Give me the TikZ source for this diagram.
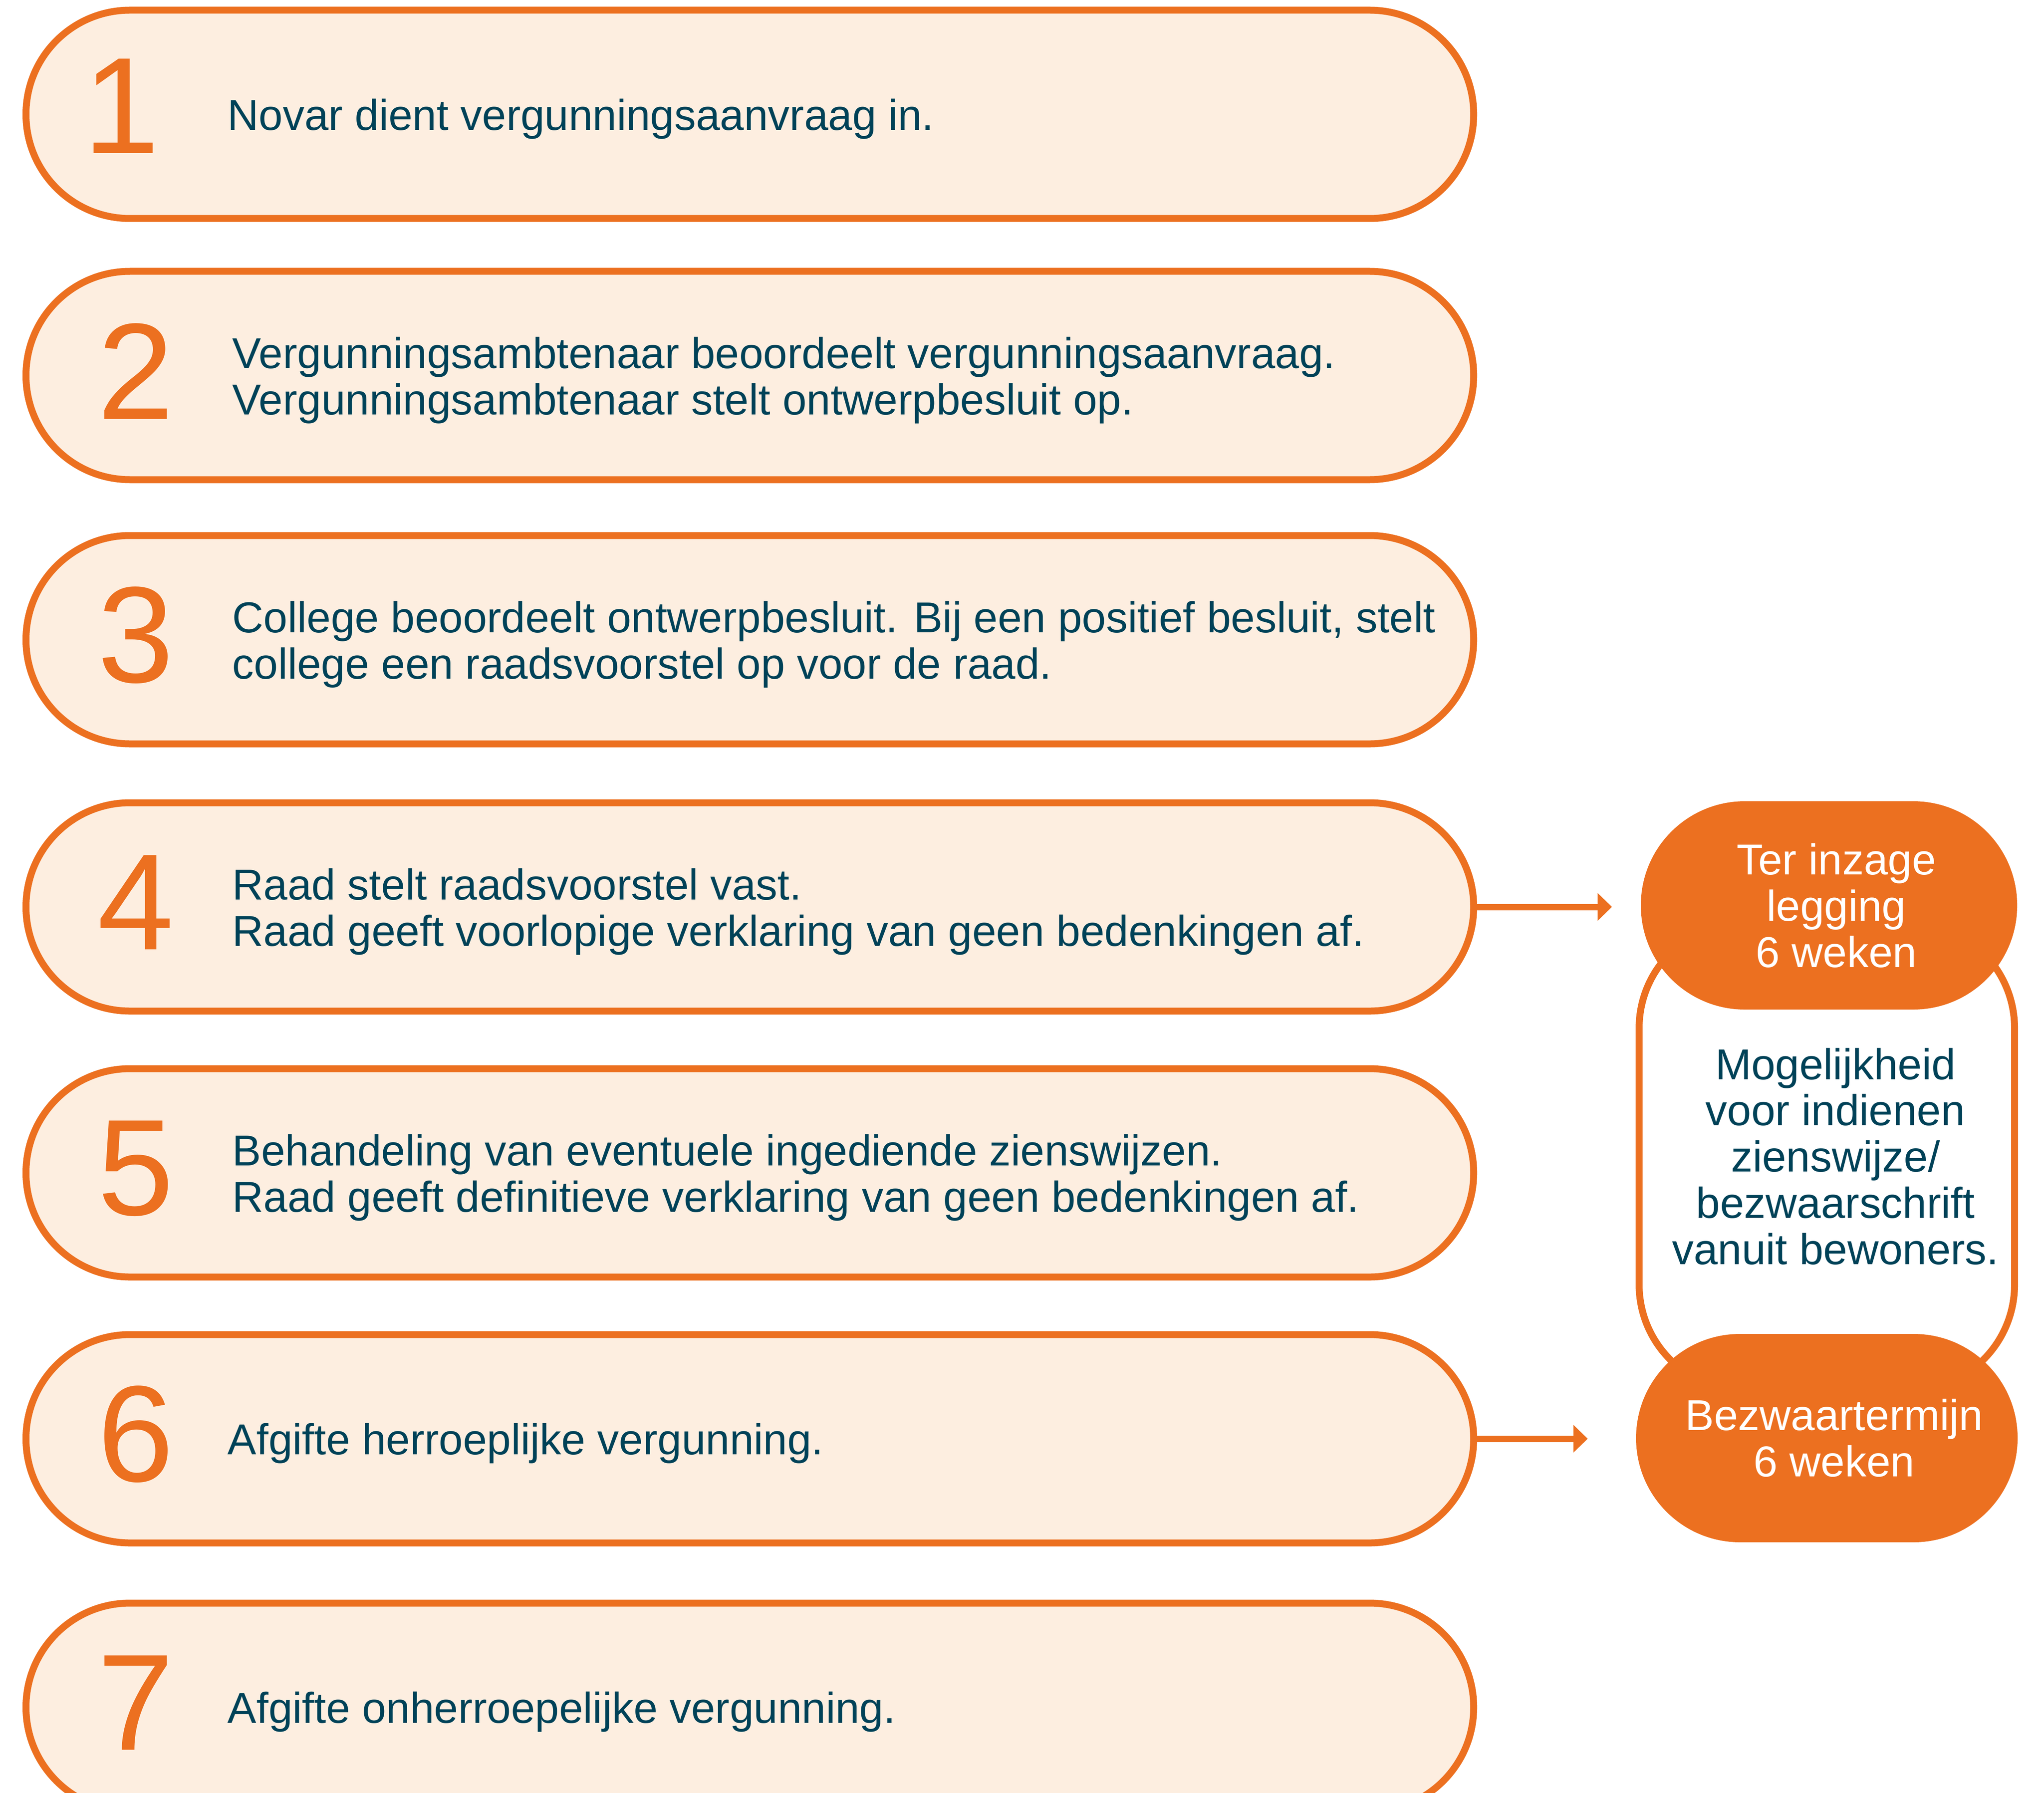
\documentclass[tikz,border=0pt]{standalone}
\usepackage{fontspec}
\setmainfont{Liberation Sans}
\usetikzlibrary{arrows.meta}
\definecolor{oranje}{RGB}{236,112,32}
\definecolor{perzik}{RGB}{253,238,224}
\definecolor{donkerblauw}{RGB}{0,66,88}
\tikzset{
  stap/.style={draw=oranje, line width=0.16cm, fill=perzik, rounded corners=2.4cm,
    minimum width=33.43cm, minimum height=4.81cm, inner sep=0pt},
  nummer/.style={anchor=west, text=oranje, inner sep=0pt, font=\fontsize{90pt}{90pt}\selectfont},
  tekst/.style={anchor=west, align=left, text=donkerblauw, inner sep=0pt, yshift=-0.11cm,
    font=\fontsize{28.4pt}{30.4pt}\selectfont},
  termijn/.style={fill=oranje, rounded corners=2.4cm, minimum height=4.81cm, inner sep=0pt},
  kader/.style={draw=oranje, line width=0.16cm, fill=white, rounded corners=2.45cm,
    minimum width=8.67cm, minimum height=10.82cm, inner sep=0pt},
  wittekst/.style={align=center, text=white, inner sep=0pt, font=\fontsize{28.4pt}{30.4pt}\selectfont},
  blauwtekst/.style={align=center, text=donkerblauw, inner sep=0pt, font=\fontsize{28.4pt}{30.4pt}\selectfont},
  pijl/.style={draw=oranje, line width=0.15cm, -{Triangle[length=0.33cm, width=0.62cm]}}
}
\begin{document}
\begin{tikzpicture}
\useasboundingbox (0,0) rectangle (47.2,-41.4);
\clip (0,0) rectangle (47.2,-41.4);
\node[stap] (stap1) at (17.315,-2.64) {};
\node[stap] (stap2) at (17.315,-8.67) {};
\node[stap] (stap3) at (17.315,-14.77) {};
\node[stap] (stap4) at (17.315,-20.94) {};
\node[stap] (stap5) at (17.315,-27.08) {};
\node[stap] (stap6) at (17.315,-33.22) {};
\node[stap] (stap7) at (17.315,-39.42) {};
\node[nummer] (num1) at (1.92,-2.45) {1};
\node[nummer] (num2) at (2.25,-8.57) {2};
\node[nummer] (num3) at (2.25,-14.67) {3};
\node[nummer] (num4) at (2.25,-20.84) {4};
\node[nummer] (num5) at (2.25,-26.98) {5};
\node[nummer] (num6) at (2.25,-33.12) {6};
\node[nummer] (num7) at (2.25,-39.32) {7};
\node[tekst] (tekst1) at (5.25,-2.64) {Novar dient vergunningsaanvraag in.};
\node[tekst] (tekst2) at (5.36,-8.67) {Vergunningsambtenaar beoordeelt vergunningsaanvraag.\\Vergunningsambtenaar stelt ontwerpbesluit op.};
\node[tekst] (tekst3) at (5.36,-14.77) {College beoordeelt ontwerpbesluit. Bij een positief besluit, stelt\\college een raadsvoorstel op voor de raad.};
\node[tekst] (tekst4) at (5.36,-20.94) {Raad stelt raadsvoorstel vast.\\Raad geeft voorlopige verklaring van geen bedenkingen af.};
\node[tekst] (tekst5) at (5.36,-27.08) {Behandeling van eventuele ingediende zienswijzen.\\Raad geeft definitieve verklaring van geen bedenkingen af.};
\node[tekst] (tekst6) at (5.25,-33.22) {Afgifte herroeplijke vergunning.};
\node[tekst] (tekst7) at (5.25,-39.42) {Afgifte onherroepelijke vergunning.};
\node[kader] (mogelijkheid) at (42.185,-26.70) {};
\node[termijn, minimum width=8.69cm] (inzage) at (42.235,-20.905) {};
\node[termijn, minimum width=8.81cm] (bezwaar) at (42.185,-33.205) {};
\node[wittekst] (inzagetekst) at ([xshift=0.17cm]inzage.center) {Ter inzage\\legging\\6 weken};
\node[blauwtekst] (mogelijkheidtekst) at ([xshift=0.2cm]mogelijkheid.center) {Mogelijkheid\\voor indienen\\zienswijze/\\bezwaarschrift\\vanuit bewoners.};
\node[wittekst] (bezwaartekst) at ([xshift=0.17cm]bezwaar.center) {Bezwaartermijn\\6 weken};
\draw[pijl, shorten >=0.66cm] (stap4.east) -- (stap4.east -| inzage.west);
\draw[pijl, shorten >=1.11cm] (stap6.east) -- (stap6.east -| bezwaar.west);
\end{tikzpicture}
\end{document}
